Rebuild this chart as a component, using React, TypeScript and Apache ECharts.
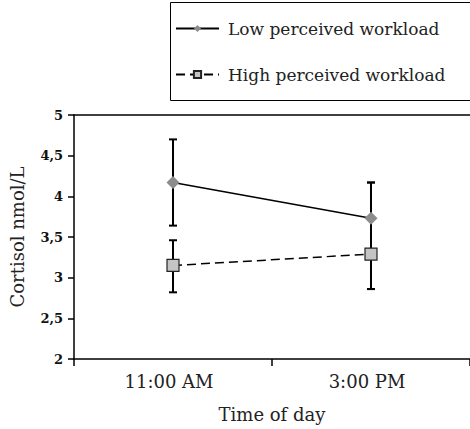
import React, { useEffect, useRef } from "react";
import * as echarts from "echarts";

const categories = ["11:00 AM", "3:00 PM"];
const lowMeans = [4.17, 3.73];
const lowErrLow = [3.64, 2.86];
const lowErrHigh = [4.7, 4.17];
const highMeans = [3.15, 3.29];
const highErrLow = [2.82, 2.86];
const highErrHigh = [3.46, 4.17];
const seriesNames = ["Low perceived workload", "High perceived workload"];

const FONT = "DejaVu Serif";

export default function App() {
  const ref = useRef<HTMLDivElement>(null);
  useEffect(() => {
    if (!ref.current) return;
    const chart = echarts.init(ref.current, null, { renderer: "svg" });
    const errData: number[][] = [];
    categories.forEach((_, i) => {
      errData.push([i, lowErrLow[i], lowErrHigh[i]]);
      errData.push([i, highErrLow[i], highErrHigh[i]]);
    });
    const renderErr = (params: any, api: any) => {
      const x = api.value(0);
      const lo = api.coord([x, api.value(1)]);
      const hi = api.coord([x, api.value(2)]);
      const w = 4;
      const st = { stroke: "#000", lineWidth: 2 };
      return {
        type: "group",
        children: [
          { type: "line", shape: { x1: lo[0], y1: lo[1], x2: hi[0], y2: hi[1] }, style: st },
          { type: "line", shape: { x1: lo[0] - w, y1: lo[1], x2: lo[0] + w, y2: lo[1] }, style: st },
          { type: "line", shape: { x1: hi[0] - w, y1: hi[1], x2: hi[0] + w, y2: hi[1] }, style: st },
        ],
      };
    };
    chart.setOption({
      animation: false,
      textStyle: { fontFamily: FONT },
      graphic: [
        {
          type: "rect",
          shape: { x: 170.5, y: 2.5, width: 330, height: 98 },
          style: { fill: "none", stroke: "#000", lineWidth: 1 },
          silent: true,
        },
      ],
      legend: {
        orient: "vertical",
        left: 170,
        top: 2,
        padding: [18, 10, 19, 5],
        itemGap: 29,
        itemWidth: 43,
        itemHeight: 9,
        textStyle: { fontFamily: FONT, fontSize: 17, color: "#222", padding: [0, 0, 0, 4] },
        data: seriesNames,
      },
      grid: { left: 73, right: -6, top: 115, bottom: 70 },
      xAxis: [
        {
          type: "category",
          data: categories,
          boundaryGap: true,
          axisLine: { lineStyle: { color: "#000", width: 1.5 } },
          axisTick: { show: true, length: 7, lineStyle: { color: "#000", width: 1.5 } },
          axisLabel: { fontFamily: FONT, fontSize: 18, color: "#222", margin: 13, padding: [0, 8, 0, 0] },
          name: "Time of day",
          nameLocation: "middle",
          nameGap: 46,
          nameTextStyle: { fontFamily: FONT, fontSize: 18, color: "#222" },
        },
        {
          type: "category",
          data: categories,
          position: "top",
          axisLine: { show: true, lineStyle: { color: "#000", width: 1.5 } },
          axisTick: { show: false },
          axisLabel: { show: false },
        },
      ],
      yAxis: {
        type: "value",
        min: 2,
        max: 5,
        interval: 0.5,
        axisLine: { show: true, lineStyle: { color: "#000", width: 1.5 } },
        axisTick: { show: true, length: 6, lineStyle: { color: "#000", width: 1.5 } },
        splitLine: { show: false },
        axisLabel: {
          fontFamily: FONT,
          fontSize: 13,
          color: "#111",
          fontWeight: "bold",
          margin: 11,
          formatter: (v: number) => String(v).replace(".", ","),
        },
        name: "Cortisol nmol/L",
        nameLocation: "middle",
        nameGap: 48,
        nameTextStyle: { fontFamily: FONT, fontSize: 18, color: "#222" },
      },
      series: [
        {
          type: "custom",
          renderItem: renderErr,
          data: errData,
          z: 1,
          silent: true,
        },
        {
          name: seriesNames[0],
          type: "line",
          data: lowMeans,
          symbol: "diamond",
          symbolSize: 13,
          itemStyle: { color: "#8c8c8c" },
          lineStyle: { color: "#000", width: 1.5 },
          z: 3,
        },
        {
          name: seriesNames[1],
          type: "line",
          data: highMeans,
          symbol: "rect",
          symbolSize: 12,
          itemStyle: { color: "#c4c4c4", borderColor: "#222", borderWidth: 1.2 },
          lineStyle: { color: "#000", width: 1.5, type: [9, 5] },
          z: 3,
        },
      ],
    });
    return () => chart.dispose();
  }, []);
  return (
    <div
      ref={ref}
      style={{ position: "absolute", left: 0, top: 0, width: 470, height: 429 }}
    />
  );
}
